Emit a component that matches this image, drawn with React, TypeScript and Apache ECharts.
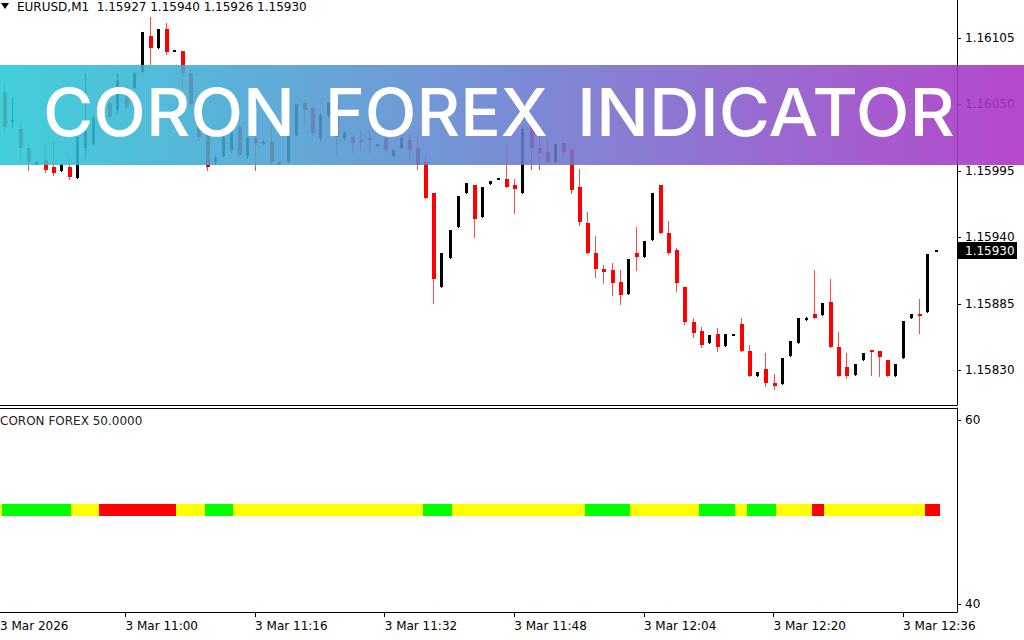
import React, { useEffect, useRef } from "react";
import * as echarts from "echarts";

const headerText = "EURUSD,M1  1.15927 1.15940 1.15926 1.15930";
const indicatorTitle = "CORON FOREX 50.0000";
const bannerWords = ["CORON", "FOREX", "INDICATOR"];

// OHLC, one entry per 1-minute bar (10:45 .. 12:40)
const opens = [
  1.16060, 1.16036, 1.16030, 1.16014, 1.16002, 1.16004, 1.15998, 1.15995, 1.15998, 1.15989,
  1.16014, 1.16017, 1.16040, 1.16051, 1.16045, 1.16064, 1.16064, 1.16077, 1.16107, 1.16097,
  1.16112, 1.16095, 1.16094, 1.16076, 1.16045, 1.16025, 1.16002, 1.16007, 1.16012, 1.16031,
  1.16007, 1.16022, 1.16019, 1.16019, 1.16002, 1.16002, 1.16025, 1.16051, 1.16047, 1.16022,
  1.16041, 1.16051, 1.16022, 1.16023, 1.16021, 1.16022, 1.16017, 1.16022, 1.16007, 1.16014,
  1.16021, 1.16014, 1.16002, 1.15977, 1.15899, 1.15923, 1.15949, 1.15977, 1.15983, 1.15957,
  1.15984, 1.15989, 1.15988, 1.15983, 1.15977, 1.16037, 1.16014, 1.16011, 1.16002, 1.16018,
  1.16012, 1.15982, 1.15952, 1.15927, 1.15914, 1.15913, 1.15903, 1.15893, 1.15927, 1.15924,
  1.15938, 1.15983, 1.15944, 1.15930, 1.15899, 1.15870, 1.15863, 1.15853, 1.15860, 1.15850,
  1.15860, 1.15868, 1.15846, 1.15825, 1.15831, 1.15820, 1.15819, 1.15842, 1.15853, 1.15873,
  1.15877, 1.15876, 1.15887, 1.15849, 1.15833, 1.15826, 1.15839, 1.15847, 1.15846, 1.15839,
  1.15825, 1.15840, 1.15873, 1.15877, 1.15878, 1.15929,
];
const highs = [
  1.16066, 1.16056, 1.16035, 1.16017, 1.16002, 1.16017, 1.16019, 1.16001, 1.16007, 1.16023,
  1.16076, 1.16041, 1.16056, 1.16052, 1.16076, 1.16066, 1.16077, 1.16110, 1.16122, 1.16112,
  1.16117, 1.16095, 1.16094, 1.16081, 1.16050, 1.16025, 1.16007, 1.16025, 1.16029, 1.16033,
  1.16023, 1.16025, 1.16021, 1.16033, 1.16002, 1.16025, 1.16050, 1.16052, 1.16048, 1.16043,
  1.16052, 1.16052, 1.16027, 1.16025, 1.16029, 1.16030, 1.16017, 1.16031, 1.16012, 1.16023,
  1.16025, 1.16025, 1.16007, 1.15977, 1.15927, 1.15946, 1.15974, 1.15985, 1.15983, 1.15982,
  1.15987, 1.15989, 1.16017, 1.15988, 1.16031, 1.16041, 1.16023, 1.16023, 1.16017, 1.16021,
  1.16014, 1.15997, 1.15961, 1.15941, 1.15917, 1.15919, 1.15913, 1.15922, 1.15949, 1.15937,
  1.15977, 1.15983, 1.15954, 1.15931, 1.15899, 1.15873, 1.15866, 1.15859, 1.15865, 1.15860,
  1.15860, 1.15873, 1.15851, 1.15829, 1.15844, 1.15827, 1.15840, 1.15854, 1.15873, 1.15874,
  1.15913, 1.15886, 1.15906, 1.15862, 1.15844, 1.15835, 1.15844, 1.15847, 1.15846, 1.15839,
  1.15835, 1.15871, 1.15877, 1.15889, 1.15926, 1.15930,
];
const lows = [
  1.16029, 1.16031, 1.16004, 1.15996, 1.16001, 1.15994, 1.15992, 1.15995, 1.15988, 1.15989,
  1.16006, 1.16017, 1.16040, 1.16039, 1.16043, 1.16047, 1.16064, 1.16077, 1.16083, 1.16097,
  1.16092, 1.16095, 1.16064, 1.16048, 1.16021, 1.15996, 1.16001, 1.16007, 1.16011, 1.16007,
  1.16006, 1.15996, 1.16017, 1.16001, 1.16001, 1.16002, 1.16025, 1.16035, 1.16025, 1.16021,
  1.16040, 1.16007, 1.16021, 1.16011, 1.16012, 1.16011, 1.16017, 1.16011, 1.16007, 1.16014,
  1.16004, 1.15997, 1.15973, 1.15886, 1.15899, 1.15923, 1.15949, 1.15977, 1.15940, 1.15957,
  1.15984, 1.15989, 1.15982, 1.15960, 1.15977, 1.15997, 1.15997, 1.16002, 1.16002, 1.16007,
  1.15977, 1.15950, 1.15927, 1.15907, 1.15902, 1.15892, 1.15885, 1.15893, 1.15913, 1.15924,
  1.15938, 1.15944, 1.15926, 1.15896, 1.15868, 1.15858, 1.15849, 1.15853, 1.15846, 1.15850,
  1.15860, 1.15846, 1.15825, 1.15825, 1.15817, 1.15815, 1.15819, 1.15842, 1.15853, 1.15872,
  1.15873, 1.15876, 1.15849, 1.15825, 1.15824, 1.15826, 1.15839, 1.15826, 1.15825, 1.15825,
  1.15825, 1.15840, 1.15873, 1.15861, 1.15878, 1.15929,
];
const closes = [
  1.16031, 1.16037, 1.16014, 1.16002, 1.16002, 1.15996, 1.15993, 1.16001, 1.15990, 1.16023,
  1.16027, 1.16039, 1.16051, 1.16040, 1.16070, 1.16048, 1.16076, 1.16110, 1.16097, 1.16112,
  1.16093, 1.16095, 1.16076, 1.16050, 1.16023, 1.15998, 1.16006, 1.16023, 1.16027, 1.16008,
  1.16022, 1.16018, 1.16019, 1.16002, 1.16002, 1.16025, 1.16050, 1.16045, 1.16026, 1.16041,
  1.16051, 1.16023, 1.16026, 1.16018, 1.16019, 1.16021, 1.16017, 1.16012, 1.16012, 1.16022,
  1.16012, 1.16000, 1.15973, 1.15906, 1.15927, 1.15946, 1.15974, 1.15985, 1.15955, 1.15982,
  1.15987, 1.15989, 1.15982, 1.15980, 1.16030, 1.16014, 1.16010, 1.16002, 1.16017, 1.16011,
  1.15979, 1.15953, 1.15927, 1.15914, 1.15911, 1.15902, 1.15892, 1.15922, 1.15924, 1.15937,
  1.15977, 1.15944, 1.15927, 1.15902, 1.15870, 1.15861, 1.15851, 1.15859, 1.15849, 1.15860,
  1.15860, 1.15846, 1.15825, 1.15829, 1.15820, 1.15817, 1.15840, 1.15854, 1.15873, 1.15873,
  1.15873, 1.15886, 1.15849, 1.15825, 1.15825, 1.15835, 1.15844, 1.15845, 1.15841, 1.15825,
  1.15835, 1.15871, 1.15877, 1.15876, 1.15926, 1.15930,
];

// indicator: level and colour state per bar (G green, Y yellow, R red)
const signalLevel = [
  50, 50, 50, 50, 50, 50, 50, 50, 50, 50, 50, 50, 50, 50, 50, 50, 50, 50, 50, 50,
  50, 50, 50, 50, 50, 50, 50, 50, 50, 50, 50, 50, 50, 50, 50, 50, 50, 50, 50, 50,
  50, 50, 50, 50, 50, 50, 50, 50, 50, 50, 50, 50, 50, 50, 50, 50, 50, 50, 50, 50,
  50, 50, 50, 50, 50, 50, 50, 50, 50, 50, 50, 50, 50, 50, 50, 50, 50, 50, 50, 50,
  50, 50, 50, 50, 50, 50, 50, 50, 50, 50, 50, 50, 50, 50, 50, 50, 50, 50, 50, 50,
  50, 50, 50, 50, 50, 50, 50, 50, 50, 50, 50, 50, 50, 50, 50, 50,
];
const signalState = [
  "G", "G", "G", "G", "G", "G", "G", "G", "G", "Y",
  "Y", "Y", "R", "R", "R", "R", "R", "R", "R", "R",
  "R", "R", "Y", "Y", "Y", "G", "G", "G", "G", "Y",
  "Y", "Y", "Y", "Y", "Y", "Y", "Y", "Y", "Y", "Y",
  "Y", "Y", "Y", "Y", "Y", "Y", "Y", "Y", "Y", "Y",
  "Y", "Y", "G", "G", "G", "G", "Y", "Y", "Y", "Y",
  "Y", "Y", "Y", "Y", "Y", "Y", "Y", "Y", "Y", "Y",
  "Y", "Y", "G", "G", "G", "G", "G", "G", "Y", "Y",
  "Y", "Y", "Y", "Y", "Y", "Y", "G", "G", "G", "G",
  "G", "Y", "G", "G", "G", "G", "Y", "Y", "Y", "Y",
  "R", "R", "Y", "Y", "Y", "Y", "Y", "Y", "Y", "Y",
  "Y", "Y", "Y", "Y", "R", "R",
];

const priceTicks = [1.1583, 1.15885, 1.1594, 1.15995, 1.1605, 1.16105];
const indicatorTicks = [40, 60];
const timeTickIndex = [-1, 15, 31, 47, 63, 79, 95, 111];
const timeTickLabels = [
  "3 Mar 2026", "3 Mar 11:00", "3 Mar 11:16", "3 Mar 11:32",
  "3 Mar 11:48", "3 Mar 12:04", "3 Mar 12:20", "3 Mar 12:36",
];

const FONT = "DejaVu Sans";
const stateColor: Record<string, string> = { G: "#00ff00", Y: "#ffff00", R: "#ff0000" };

export default function App() {
  const ref = useRef<HTMLDivElement>(null);

  useEffect(() => {
    const el = ref.current!;
    const chart = echarts.init(el, null, { renderer: "svg" });

    const plotRight = 957;
    const step = 8.1;
    const xMin = -4 / step;
    const xMax = xMin + plotRight / step;
    const inRangeTicks = timeTickIndex.filter((v) => v >= xMin);

    const candleData = opens.map((o, i) => [i, o, closes[i], lows[i], highs[i]]);
    const indData = signalLevel.map((v, i) => [i, v]);

    const option: any = {
      animation: false,
      backgroundColor: "#ffffff",
      grid: [
        { left: 0, right: 1024 - plotRight, top: 0, height: 405 },
        { left: 0, right: 1024 - plotRight, top: 408, height: 204 },
      ],
      xAxis: [
        {
          type: "value", gridIndex: 0, min: xMin, max: xMax, position: "bottom",
          axisLine: { show: true, onZero: false, lineStyle: { color: "#000", width: 1 } },
          axisTick: { show: false }, axisLabel: { show: false }, splitLine: { show: false },
        },
        {
          type: "value", gridIndex: 1, min: xMin, max: xMax, position: "bottom",
          axisLine: { show: true, onZero: false, lineStyle: { color: "#000", width: 1 } },
          axisTick: { show: true, customValues: inRangeTicks, length: 5, lineStyle: { color: "#000" } },
          axisLabel: {
            show: true, customValues: inRangeTicks,
            formatter: (v: number) => timeTickLabels[timeTickIndex.indexOf(v)] ?? "",
            align: "left", color: "#000", fontFamily: FONT, fontSize: 12, margin: 8,
          },
          splitLine: { show: false },
        },
        {
          type: "value", gridIndex: 1, min: xMin, max: xMax, position: "top",
          axisLine: { show: true, onZero: false, lineStyle: { color: "#000", width: 1 } },
          axisTick: { show: false }, axisLabel: { show: false }, splitLine: { show: false },
        },
      ],
      yAxis: [
        {
          type: "value", gridIndex: 0, position: "right", min: 1.158014, max: 1.161364,
          axisLine: { show: true, onZero: false, lineStyle: { color: "#000", width: 1 } },
          axisTick: { show: true, customValues: priceTicks, length: 4, lineStyle: { color: "#000" } },
          axisLabel: {
            show: true, customValues: priceTicks,
            formatter: (v: number) => v.toFixed(5),
            color: "#000", fontFamily: FONT, fontSize: 12, margin: 8,
          },
          splitLine: { show: false },
        },
        {
          type: "value", gridIndex: 1, position: "right", min: 39.13, max: 61.304,
          axisLine: { show: true, onZero: false, lineStyle: { color: "#000", width: 1 } },
          axisTick: { show: true, customValues: indicatorTicks, length: 4, lineStyle: { color: "#000" } },
          axisLabel: {
            show: true, customValues: indicatorTicks,
            formatter: (v: number) => String(v),
            color: "#000", fontFamily: FONT, fontSize: 12, margin: 8,
          },
          splitLine: { show: false },
        },
      ],
      series: [
        {
          type: "custom",
          xAxisIndex: 0,
          yAxisIndex: 0,
          data: candleData,
          encode: { x: 0, y: [1, 2, 3, 4] },
          clip: true,
          renderItem: (params: any, api: any) => {
            const i = api.value(0);
            const o = api.value(1);
            const c = api.value(2);
            const l = api.value(3);
            const h = api.value(4);
            const pO = api.coord([i, o]);
            const pC = api.coord([i, c]);
            const pL = api.coord([i, l]);
            const pH = api.coord([i, h]);
            const bull = c >= o;
            const x = Math.round(pO[0]);
            const top = Math.round(Math.min(pO[1], pC[1]));
            const bot = Math.round(Math.max(pO[1], pC[1]));
            const hgt = Math.max(bot - top, 2);
            return {
              type: "group",
              children: [
                {
                  type: "line",
                  shape: { x1: x + 0.5, y1: Math.round(pH[1]), x2: x + 0.5, y2: Math.round(pL[1]) + 1 },
                  style: { stroke: bull ? "#000000" : "#ff4a4a", lineWidth: 1 },
                },
                {
                  type: "rect",
                  shape: { x: x - 1, y: top, width: bull ? 3 : 4, height: hgt },
                  style: { fill: bull ? "#000000" : "#ff0000" },
                },
              ],
            };
          },
        },
        {
          type: "custom",
          xAxisIndex: 1,
          yAxisIndex: 1,
          data: indData,
          encode: { x: 0, y: 1 },
          clip: true,
          renderItem: (params: any, api: any) => {
            const idx = params.dataIndex;
            const i = api.value(0);
            const v = api.value(1);
            const p = api.coord([i, v]);
            const half = api.size([1, 0])[0] / 2;
            const s = signalState[idx];
            const last = idx === signalState.length - 1;
            const prevSame = signalState[idx - 1] === s;
            const nextSame = signalState[idx + 1] === s;
            const y0 = Math.round(p[1]) - 8;
            const yl = Math.round(p[0] - half);
            const yr = Math.round(p[0] + (last ? 2 : half));
            const children: any[] = [
              {
                type: "rect",
                shape: { x: yl, y: y0, width: yr - yl + (last ? 0 : 0.6), height: 12 },
                style: { fill: stateColor.Y },
              },
            ];
            if (s !== "Y") {
              const cl = Math.round(p[0] - (prevSame ? half : 2));
              const cr = Math.round(p[0] + (nextSame ? half : 2 + (last ? 2 : 0)));
              children.push({
                type: "rect",
                shape: { x: cl, y: y0, width: cr - cl + (nextSame ? 0.6 : 0), height: 12 },
                style: { fill: stateColor[s] },
              });
            }
            return { type: "group", children };
          },
        },
      ],
    };

    chart.setOption(option);

    const lastClose = closes[closes.length - 1];
    const yLast = chart.convertToPixel({ yAxisIndex: 0 }, lastClose) as number;
    const firstTickX = chart.convertToPixel({ xAxisIndex: 1 }, timeTickIndex[0]) as number;

    const measure = (t: string, font: string) => {
      const ctx = document.createElement("canvas").getContext("2d")!;
      ctx.font = font;
      return ctx.measureText(t).width;
    };
    const bannerFont = "500 66px Inter";
    const wordBoxes = [
      { x: 43, w: 252 },
      { x: 325, w: 223 },
      { x: 577, w: 378 },
    ];

    const graphics: any[] = [
      {
        type: "polygon", z: 50,
        shape: { points: [[1, 3], [9, 3], [5, 9]] },
        style: { fill: "#000" },
      },
      {
        type: "text", z: 50, x: 17, y: 7,
        style: { text: headerText, fill: "#000", font: `12px '${FONT}'`, textAlign: "left", textVerticalAlign: "middle" },
      },
      {
        type: "text", z: 50, x: 0, y: 421,
        style: { text: indicatorTitle, fill: "#222", font: `12px '${FONT}'`, textAlign: "left", textVerticalAlign: "middle" },
      },
      {
        type: "text", z: 50, x: Math.max(firstTickX + 1, 0), y: 626,
        style: { text: timeTickLabels[0], fill: "#000", font: `12px '${FONT}'`, textAlign: "left", textVerticalAlign: "middle" },
      },
      {
        type: "rect", z: 50,
        shape: { x: plotRight + 1, y: Math.round(yLast) - 8, width: 59, height: 17 },
        style: { fill: "#000" },
      },
      {
        type: "text", z: 51, x: plotRight + 8, y: Math.round(yLast) + 0.5,
        style: { text: lastClose.toFixed(5), fill: "#fff", font: `12px '${FONT}'`, textAlign: "left", textVerticalAlign: "middle" },
      },
      {
        type: "rect", z: 100,
        shape: { x: 0, y: 65, width: 1024, height: 100 },
        style: {
          opacity: 0.88,
          fill: {
            type: "linear", x: 0, y: 0, x2: 1, y2: 0,
            colorStops: [
              { offset: 0, color: "#27c9d5" },
              { offset: 0.5, color: "#687ccf" },
              { offset: 1, color: "#ac2fc4" },
            ],
          },
        },
      },
    ];
    bannerWords.forEach((w, k) => {
      const mw = measure(w, bannerFont);
      graphics.push({
        type: "text", z: 101, x: wordBoxes[k].x, y: 112,
        scaleX: wordBoxes[k].w / mw,
        style: { text: w, fill: "#ffffff", font: bannerFont, textAlign: "left", textVerticalAlign: "middle" },
      });
    });

    chart.setOption({ graphic: graphics });

    return () => chart.dispose();
  }, []);

  return (
    <div
      ref={ref}
      style={{ position: "fixed", left: 0, top: 0, width: 1024, height: 640, background: "#fff" }}
    />
  );
}
